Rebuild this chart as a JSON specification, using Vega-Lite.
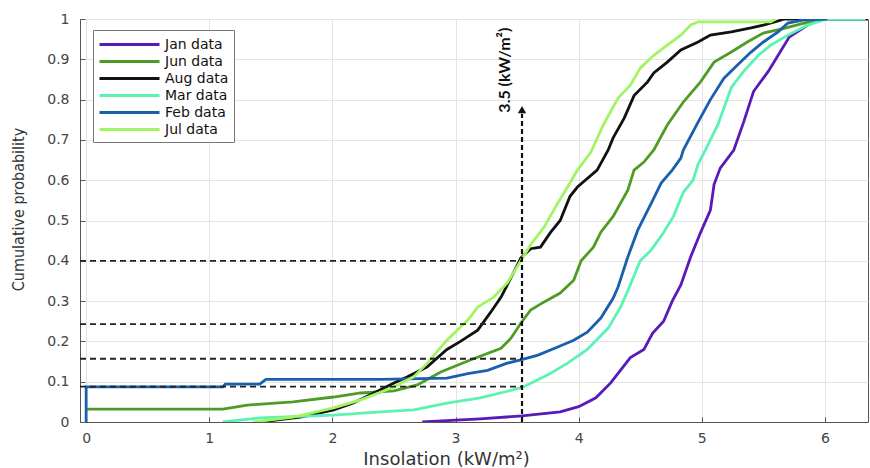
{
  "$schema": "https://vega.github.io/schema/vega-lite/v6.json",
  "width": 788,
  "height": 403,
  "autosize": {"type": "none"},
  "padding": {"left": 80, "top": 19, "right": 2, "bottom": 46},
  "background": "white",
  "config": {
    "view": {"stroke": "#555", "strokeWidth": 1},
    "font": "DejaVu Sans"
  },
  "datasets": {
    "cdf": [
      {"m": "Jan data", "i": 0, "x": 2.73, "p": 0},
      {"m": "Jan data", "i": 1, "x": 3.2, "p": 0.008},
      {"m": "Jan data", "i": 2, "x": 3.54, "p": 0.015},
      {"m": "Jan data", "i": 3, "x": 3.85, "p": 0.025},
      {"m": "Jan data", "i": 4, "x": 4.0, "p": 0.038},
      {"m": "Jan data", "i": 5, "x": 4.14, "p": 0.06},
      {"m": "Jan data", "i": 6, "x": 4.26, "p": 0.097},
      {"m": "Jan data", "i": 7, "x": 4.42, "p": 0.16},
      {"m": "Jan data", "i": 8, "x": 4.53, "p": 0.18},
      {"m": "Jan data", "i": 9, "x": 4.6, "p": 0.22},
      {"m": "Jan data", "i": 10, "x": 4.69, "p": 0.25},
      {"m": "Jan data", "i": 11, "x": 4.76, "p": 0.3},
      {"m": "Jan data", "i": 12, "x": 4.83, "p": 0.34},
      {"m": "Jan data", "i": 13, "x": 4.91, "p": 0.41},
      {"m": "Jan data", "i": 14, "x": 4.99, "p": 0.47},
      {"m": "Jan data", "i": 15, "x": 5.07, "p": 0.526},
      {"m": "Jan data", "i": 16, "x": 5.1, "p": 0.59},
      {"m": "Jan data", "i": 17, "x": 5.15, "p": 0.63},
      {"m": "Jan data", "i": 18, "x": 5.26, "p": 0.675},
      {"m": "Jan data", "i": 19, "x": 5.34, "p": 0.744},
      {"m": "Jan data", "i": 20, "x": 5.42, "p": 0.82},
      {"m": "Jan data", "i": 21, "x": 5.54, "p": 0.87},
      {"m": "Jan data", "i": 22, "x": 5.64, "p": 0.92},
      {"m": "Jan data", "i": 23, "x": 5.71, "p": 0.955},
      {"m": "Jan data", "i": 24, "x": 5.86, "p": 0.985},
      {"m": "Jan data", "i": 25, "x": 5.98, "p": 1.0},

      {"m": "Jun data", "i": 0, "x": 0, "p": 0.032},
      {"m": "Jun data", "i": 1, "x": 1.11, "p": 0.032},
      {"m": "Jun data", "i": 2, "x": 1.31, "p": 0.042},
      {"m": "Jun data", "i": 3, "x": 1.68, "p": 0.05},
      {"m": "Jun data", "i": 4, "x": 2.01, "p": 0.062},
      {"m": "Jun data", "i": 5, "x": 2.23, "p": 0.072},
      {"m": "Jun data", "i": 6, "x": 2.5, "p": 0.077},
      {"m": "Jun data", "i": 7, "x": 2.69, "p": 0.092},
      {"m": "Jun data", "i": 8, "x": 2.88, "p": 0.124},
      {"m": "Jun data", "i": 9, "x": 3.12, "p": 0.154},
      {"m": "Jun data", "i": 10, "x": 3.37, "p": 0.183},
      {"m": "Jun data", "i": 11, "x": 3.45, "p": 0.208},
      {"m": "Jun data", "i": 12, "x": 3.53, "p": 0.245},
      {"m": "Jun data", "i": 13, "x": 3.61, "p": 0.278},
      {"m": "Jun data", "i": 14, "x": 3.72, "p": 0.298},
      {"m": "Jun data", "i": 15, "x": 3.85, "p": 0.32},
      {"m": "Jun data", "i": 16, "x": 3.96, "p": 0.352},
      {"m": "Jun data", "i": 17, "x": 4.02, "p": 0.4},
      {"m": "Jun data", "i": 18, "x": 4.12, "p": 0.434},
      {"m": "Jun data", "i": 19, "x": 4.18, "p": 0.471},
      {"m": "Jun data", "i": 20, "x": 4.28, "p": 0.51},
      {"m": "Jun data", "i": 21, "x": 4.4, "p": 0.576},
      {"m": "Jun data", "i": 22, "x": 4.45, "p": 0.625},
      {"m": "Jun data", "i": 23, "x": 4.53, "p": 0.645},
      {"m": "Jun data", "i": 24, "x": 4.61, "p": 0.675},
      {"m": "Jun data", "i": 25, "x": 4.72, "p": 0.737},
      {"m": "Jun data", "i": 26, "x": 4.85, "p": 0.794},
      {"m": "Jun data", "i": 27, "x": 4.99, "p": 0.844},
      {"m": "Jun data", "i": 28, "x": 5.1, "p": 0.893},
      {"m": "Jun data", "i": 29, "x": 5.24, "p": 0.918},
      {"m": "Jun data", "i": 30, "x": 5.37, "p": 0.943},
      {"m": "Jun data", "i": 31, "x": 5.5, "p": 0.965},
      {"m": "Jun data", "i": 32, "x": 5.67, "p": 0.977},
      {"m": "Jun data", "i": 33, "x": 5.83, "p": 0.99},
      {"m": "Jun data", "i": 34, "x": 5.94, "p": 1.0},

      {"m": "Aug data", "i": 0, "x": 1.41, "p": 0},
      {"m": "Aug data", "i": 1, "x": 1.74, "p": 0.012},
      {"m": "Aug data", "i": 2, "x": 2.01, "p": 0.03},
      {"m": "Aug data", "i": 3, "x": 2.17, "p": 0.047},
      {"m": "Aug data", "i": 4, "x": 2.39, "p": 0.08},
      {"m": "Aug data", "i": 5, "x": 2.5, "p": 0.097},
      {"m": "Aug data", "i": 6, "x": 2.61, "p": 0.112},
      {"m": "Aug data", "i": 7, "x": 2.77, "p": 0.137},
      {"m": "Aug data", "i": 8, "x": 2.93, "p": 0.18},
      {"m": "Aug data", "i": 9, "x": 3.04, "p": 0.2},
      {"m": "Aug data", "i": 10, "x": 3.18, "p": 0.228},
      {"m": "Aug data", "i": 11, "x": 3.28, "p": 0.27},
      {"m": "Aug data", "i": 12, "x": 3.37, "p": 0.31},
      {"m": "Aug data", "i": 13, "x": 3.47, "p": 0.37},
      {"m": "Aug data", "i": 14, "x": 3.53, "p": 0.407},
      {"m": "Aug data", "i": 15, "x": 3.61, "p": 0.43},
      {"m": "Aug data", "i": 16, "x": 3.69, "p": 0.434},
      {"m": "Aug data", "i": 17, "x": 3.77, "p": 0.47},
      {"m": "Aug data", "i": 18, "x": 3.85, "p": 0.5},
      {"m": "Aug data", "i": 19, "x": 3.93, "p": 0.56},
      {"m": "Aug data", "i": 20, "x": 3.99, "p": 0.583},
      {"m": "Aug data", "i": 21, "x": 4.15, "p": 0.625},
      {"m": "Aug data", "i": 22, "x": 4.24, "p": 0.675},
      {"m": "Aug data", "i": 23, "x": 4.28, "p": 0.705},
      {"m": "Aug data", "i": 24, "x": 4.37, "p": 0.754},
      {"m": "Aug data", "i": 25, "x": 4.45, "p": 0.81},
      {"m": "Aug data", "i": 26, "x": 4.56, "p": 0.844},
      {"m": "Aug data", "i": 27, "x": 4.61, "p": 0.866},
      {"m": "Aug data", "i": 28, "x": 4.72, "p": 0.893},
      {"m": "Aug data", "i": 29, "x": 4.83, "p": 0.923},
      {"m": "Aug data", "i": 30, "x": 4.97, "p": 0.943},
      {"m": "Aug data", "i": 31, "x": 5.07, "p": 0.96},
      {"m": "Aug data", "i": 32, "x": 5.24, "p": 0.968},
      {"m": "Aug data", "i": 33, "x": 5.4, "p": 0.978},
      {"m": "Aug data", "i": 34, "x": 5.5, "p": 0.985},
      {"m": "Aug data", "i": 35, "x": 5.62, "p": 0.995},
      {"m": "Aug data", "i": 36, "x": 5.67, "p": 1.0},
      {"m": "Aug data", "i": 37, "x": 6.35, "p": 1.0},

      {"m": "Mar data", "i": 0, "x": 1.11, "p": 0},
      {"m": "Mar data", "i": 1, "x": 1.41, "p": 0.01},
      {"m": "Mar data", "i": 2, "x": 2.01, "p": 0.017},
      {"m": "Mar data", "i": 3, "x": 2.39, "p": 0.025},
      {"m": "Mar data", "i": 4, "x": 2.66, "p": 0.03},
      {"m": "Mar data", "i": 5, "x": 2.93, "p": 0.047},
      {"m": "Mar data", "i": 6, "x": 3.2, "p": 0.06},
      {"m": "Mar data", "i": 7, "x": 3.47, "p": 0.08},
      {"m": "Mar data", "i": 8, "x": 3.55, "p": 0.087},
      {"m": "Mar data", "i": 9, "x": 3.75, "p": 0.117},
      {"m": "Mar data", "i": 10, "x": 3.91, "p": 0.146},
      {"m": "Mar data", "i": 11, "x": 4.07, "p": 0.18},
      {"m": "Mar data", "i": 12, "x": 4.24, "p": 0.233},
      {"m": "Mar data", "i": 13, "x": 4.34, "p": 0.285},
      {"m": "Mar data", "i": 14, "x": 4.41, "p": 0.333},
      {"m": "Mar data", "i": 15, "x": 4.5, "p": 0.4},
      {"m": "Mar data", "i": 16, "x": 4.59, "p": 0.427},
      {"m": "Mar data", "i": 17, "x": 4.69, "p": 0.47},
      {"m": "Mar data", "i": 18, "x": 4.77, "p": 0.51},
      {"m": "Mar data", "i": 19, "x": 4.85, "p": 0.57},
      {"m": "Mar data", "i": 20, "x": 4.93, "p": 0.6},
      {"m": "Mar data", "i": 21, "x": 4.97, "p": 0.64},
      {"m": "Mar data", "i": 22, "x": 5.03, "p": 0.675},
      {"m": "Mar data", "i": 23, "x": 5.13, "p": 0.737},
      {"m": "Mar data", "i": 24, "x": 5.24, "p": 0.83},
      {"m": "Mar data", "i": 25, "x": 5.34, "p": 0.87},
      {"m": "Mar data", "i": 26, "x": 5.46, "p": 0.91},
      {"m": "Mar data", "i": 27, "x": 5.56, "p": 0.935},
      {"m": "Mar data", "i": 28, "x": 5.7, "p": 0.96},
      {"m": "Mar data", "i": 29, "x": 5.86, "p": 0.985},
      {"m": "Mar data", "i": 30, "x": 5.99, "p": 0.998},
      {"m": "Mar data", "i": 31, "x": 6.05, "p": 1.0},
      {"m": "Mar data", "i": 32, "x": 6.33, "p": 1.0},

      {"m": "Feb data", "i": 0, "x": 0, "p": 0},
      {"m": "Feb data", "i": 1, "x": 0, "p": 0.087},
      {"m": "Feb data", "i": 2, "x": 1.11, "p": 0.087},
      {"m": "Feb data", "i": 3, "x": 1.13, "p": 0.094},
      {"m": "Feb data", "i": 4, "x": 1.41, "p": 0.094},
      {"m": "Feb data", "i": 5, "x": 1.46, "p": 0.106},
      {"m": "Feb data", "i": 6, "x": 2.39, "p": 0.106},
      {"m": "Feb data", "i": 7, "x": 2.93, "p": 0.109},
      {"m": "Feb data", "i": 8, "x": 3.1, "p": 0.12},
      {"m": "Feb data", "i": 9, "x": 3.26, "p": 0.128},
      {"m": "Feb data", "i": 10, "x": 3.42, "p": 0.146},
      {"m": "Feb data", "i": 11, "x": 3.53, "p": 0.154},
      {"m": "Feb data", "i": 12, "x": 3.67, "p": 0.166},
      {"m": "Feb data", "i": 13, "x": 3.83, "p": 0.186},
      {"m": "Feb data", "i": 14, "x": 3.96, "p": 0.203},
      {"m": "Feb data", "i": 15, "x": 4.07, "p": 0.223},
      {"m": "Feb data", "i": 16, "x": 4.18, "p": 0.258},
      {"m": "Feb data", "i": 17, "x": 4.28, "p": 0.307},
      {"m": "Feb data", "i": 18, "x": 4.32, "p": 0.335},
      {"m": "Feb data", "i": 19, "x": 4.4, "p": 0.41},
      {"m": "Feb data", "i": 20, "x": 4.48, "p": 0.476},
      {"m": "Feb data", "i": 21, "x": 4.59, "p": 0.543},
      {"m": "Feb data", "i": 22, "x": 4.67, "p": 0.593},
      {"m": "Feb data", "i": 23, "x": 4.76, "p": 0.625},
      {"m": "Feb data", "i": 24, "x": 4.83, "p": 0.655},
      {"m": "Feb data", "i": 25, "x": 4.85, "p": 0.675},
      {"m": "Feb data", "i": 26, "x": 4.97, "p": 0.744},
      {"m": "Feb data", "i": 27, "x": 5.07, "p": 0.8},
      {"m": "Feb data", "i": 28, "x": 5.18, "p": 0.853},
      {"m": "Feb data", "i": 29, "x": 5.29, "p": 0.886},
      {"m": "Feb data", "i": 30, "x": 5.4, "p": 0.918},
      {"m": "Feb data", "i": 31, "x": 5.5, "p": 0.943},
      {"m": "Feb data", "i": 32, "x": 5.62, "p": 0.968},
      {"m": "Feb data", "i": 33, "x": 5.7, "p": 0.99},
      {"m": "Feb data", "i": 34, "x": 5.83, "p": 0.998},
      {"m": "Feb data", "i": 35, "x": 6.02, "p": 1.0},

      {"m": "Jul data", "i": 0, "x": 1.35, "p": 0},
      {"m": "Jul data", "i": 1, "x": 1.68, "p": 0.012},
      {"m": "Jul data", "i": 2, "x": 2.01, "p": 0.035},
      {"m": "Jul data", "i": 3, "x": 2.23, "p": 0.055},
      {"m": "Jul data", "i": 4, "x": 2.5, "p": 0.087},
      {"m": "Jul data", "i": 5, "x": 2.66, "p": 0.112},
      {"m": "Jul data", "i": 6, "x": 2.77, "p": 0.146},
      {"m": "Jul data", "i": 7, "x": 2.93, "p": 0.203},
      {"m": "Jul data", "i": 8, "x": 3.1, "p": 0.253},
      {"m": "Jul data", "i": 9, "x": 3.18, "p": 0.285},
      {"m": "Jul data", "i": 10, "x": 3.31, "p": 0.31},
      {"m": "Jul data", "i": 11, "x": 3.42, "p": 0.345},
      {"m": "Jul data", "i": 12, "x": 3.53, "p": 0.4},
      {"m": "Jul data", "i": 13, "x": 3.61, "p": 0.44},
      {"m": "Jul data", "i": 14, "x": 3.72, "p": 0.484},
      {"m": "Jul data", "i": 15, "x": 3.83, "p": 0.543},
      {"m": "Jul data", "i": 16, "x": 3.91, "p": 0.583},
      {"m": "Jul data", "i": 17, "x": 3.99, "p": 0.625},
      {"m": "Jul data", "i": 18, "x": 4.1, "p": 0.67},
      {"m": "Jul data", "i": 19, "x": 4.2, "p": 0.737},
      {"m": "Jul data", "i": 20, "x": 4.32, "p": 0.804},
      {"m": "Jul data", "i": 21, "x": 4.42, "p": 0.836},
      {"m": "Jul data", "i": 22, "x": 4.5, "p": 0.878},
      {"m": "Jul data", "i": 23, "x": 4.61, "p": 0.91},
      {"m": "Jul data", "i": 24, "x": 4.72, "p": 0.935},
      {"m": "Jul data", "i": 25, "x": 4.83, "p": 0.96},
      {"m": "Jul data", "i": 26, "x": 4.91, "p": 0.985},
      {"m": "Jul data", "i": 27, "x": 4.97, "p": 0.993},
      {"m": "Jul data", "i": 28, "x": 5.56, "p": 0.993},
      {"m": "Jul data", "i": 29, "x": 5.6, "p": 1.0}
    ],
    "hrefs": [
      {"xa": -0.05, "xb": 3.54, "y": 0.4},
      {"xa": -0.05, "xb": 3.54, "y": 0.243},
      {"xa": -0.05, "xb": 3.54, "y": 0.157},
      {"xa": -0.05, "xb": 3.54, "y": 0.088}
    ],
    "vref": [{"x": 3.54, "ya": 0, "yb": 0.765}],
    "arrow": [{"x": 3.54, "y": 0.775}],
    "note": [{"x": 3.4, "y": 0.873, "t": "3.5 (kW/m²)"}]
  },
  "layer": [
    {
      "data": {"name": "cdf"},
      "mark": {"type": "line", "strokeWidth": 2.8, "clip": true},
      "encoding": {
        "x": {
          "field": "x", "type": "quantitative",
          "scale": {"domain": [-0.05, 6.35], "nice": false, "zero": false},
          "axis": {
            "values": [0, 1, 2, 3, 4, 5, 6], "format": "d",
            "title": "Insolation (kW/m²)",
            "titleFont": "DejaVu Sans", "titleFontSize": 18, "titleFontWeight": "normal", "titleColor": "#333",
            "titleX": 366, "titleY": 37, "titleBaseline": "middle", "titleAlign": "center",
            "labelFont": "DejaVu Sans", "labelFontSize": 14, "labelColor": "#444", "labelPadding": 14,
            "domainColor": "#555", "tickColor": "#555", "tickSize": -5,
            "gridColor": "#e4e4e4", "grid": true
          }
        },
        "y": {
          "field": "p", "type": "quantitative",
          "scale": {"domain": [0, 1], "nice": false},
          "axis": {
            "values": [0, 0.1, 0.2, 0.3, 0.4, 0.5, 0.6, 0.7, 0.8, 0.9, 1], "format": "~g",
            "title": "Cumulative probability",
            "titleFont": "Liberation Sans Narrow, DejaVu Sans Condensed, Roboto, sans-serif", "titleFontSize": 16, "titleFontWeight": "normal", "titleColor": "#333",
            "titleX": -62, "titleY": 190, "titleAngle": 270, "titleAlign": "center", "titleBaseline": "middle",
            "labelFont": "DejaVu Sans", "labelFontSize": 14, "labelColor": "#444", "labelPadding": 16,
            "domainColor": "#555", "tickColor": "#555", "tickSize": -5,
            "gridColor": "#e4e4e4", "grid": true
          }
        },
        "color": {
          "field": "m", "type": "nominal",
          "scale": {
            "domain": ["Jan data", "Jun data", "Aug data", "Mar data", "Feb data", "Jul data"],
            "range": ["#5a1ab8", "#4e9c26", "#111111", "#5cf2b2", "#1a5fae", "#a3f462"]
          },
          "legend": {
            "title": null, "orient": "none", "legendX": 13, "legendY": 11,
            "symbolType": "M -1 0 L 6.5 0", "symbolSize": 256, "symbolStrokeWidth": 3, "symbolFillColor": "transparent",
            "labelFont": "DejaVu Sans", "labelFontSize": 14, "labelColor": "#111", "labelOffset": 48,
            "strokeColor": "#777", "fillColor": "white", "padding": 5, "rowPadding": 0,
            "labelLimit": 200
          }
        },
        "order": {"field": "i", "type": "quantitative"}
      }
    },
    {
      "data": {"name": "hrefs"},
      "mark": {"type": "rule", "strokeDash": [6, 4], "strokeWidth": 1.8, "color": "#222"},
      "encoding": {
        "x": {"field": "xa", "type": "quantitative"},
        "x2": {"field": "xb"},
        "y": {"field": "y", "type": "quantitative"}
      }
    },
    {
      "data": {"name": "vref"},
      "mark": {"type": "rule", "strokeDash": [5, 3], "strokeWidth": 2.2, "color": "#111"},
      "encoding": {
        "x": {"field": "x", "type": "quantitative"},
        "y": {"field": "ya", "type": "quantitative"},
        "y2": {"field": "yb"}
      }
    },
    {
      "data": {"name": "arrow"},
      "mark": {"type": "point", "shape": "triangle-up", "filled": true, "size": 70, "color": "#111", "opacity": 1},
      "encoding": {
        "x": {"field": "x", "type": "quantitative"},
        "y": {"field": "y", "type": "quantitative"}
      }
    },
    {
      "data": {"name": "note"},
      "mark": {"type": "text", "angle": 270, "font": "Lato", "fontWeight": "bold", "fontSize": 16, "color": "#111", "align": "center", "baseline": "middle"},
      "encoding": {
        "x": {"field": "x", "type": "quantitative"},
        "y": {"field": "y", "type": "quantitative"},
        "text": {"field": "t"}
      }
    }
  ]
}
